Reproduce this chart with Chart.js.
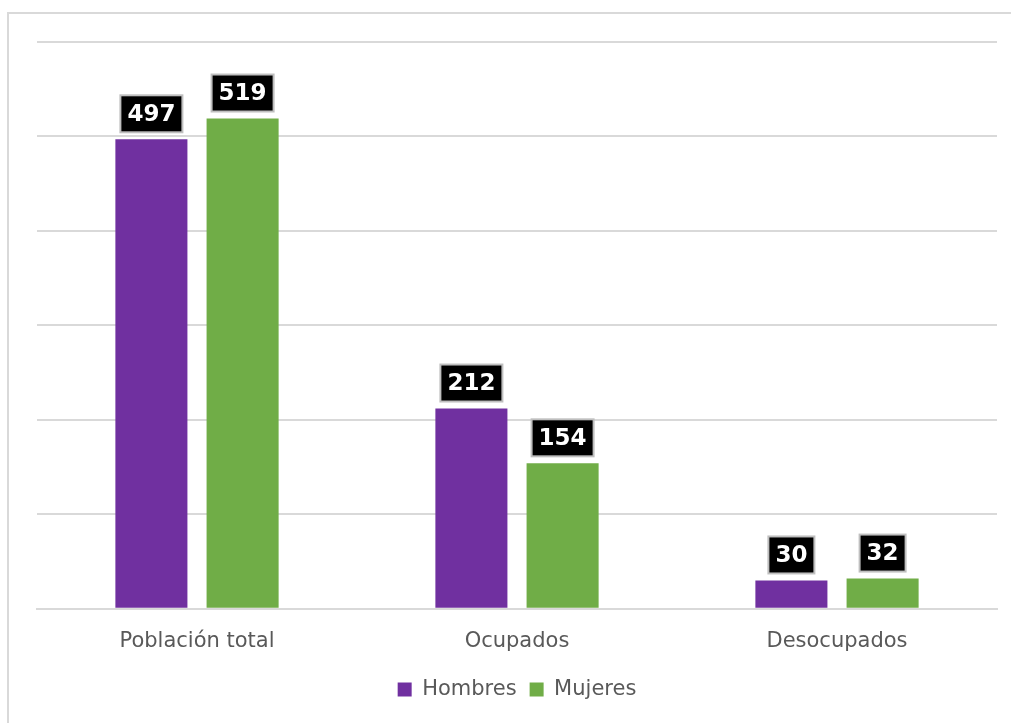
<!DOCTYPE html>
<html lang="es">
<head>
  <meta charset="UTF-8">
  <title>Población</title>
  <script src="https://cdn.jsdelivr.net/npm/chart.js"></script>
  <style>
    html, body { margin: 0; padding: 0; background: #fff; }
    .wrap { width: 1011px; height: 723px; position: relative; }
  </style>
</head>
<body>
  <div class="wrap"><canvas id="chart" width="1011" height="723"></canvas></div>
  <script>
    const categories = ['Población total', 'Ocupados', 'Desocupados'];
    const hombres = [497, 212, 30];
    const mujeres = [519, 154, 32];
    const seriesNames = ['Hombres', 'Mujeres'];

    // marco exterior y etiquetas de valor en cajas negras
    const framePlugin = {
      id: 'frame',
      beforeDraw(chart) {
        const c = chart.ctx;
        c.save();
        c.strokeStyle = '#d9d9d9';
        c.lineWidth = 2;
        c.strokeRect(8, 13, 1020, 730);
        c.restore();
      }
    };

    const boxLabels = {
      id: 'boxLabels',
      afterDatasetsDraw(chart) {
        const c = chart.ctx;
        c.save();
        c.font = 'bold 23px "DejaVu Sans"';
        c.textAlign = 'center';
        c.textBaseline = 'middle';
        chart.data.datasets.forEach((ds, i) => {
          chart.getDatasetMeta(i).data.forEach((bar, j) => {
            const txt = String(ds.data[j]);
            const w = c.measureText(txt).width + 14;
            const h = 37;
            const x = bar.x - w / 2;
            const y = bar.y - 7 - h;
            c.fillStyle = '#000';
            c.fillRect(x, y, w, h);
            c.strokeStyle = '#bfbfbf';
            c.lineWidth = 2;
            c.strokeRect(x, y, w, h);
            c.fillStyle = '#fff';
            c.fillText(txt, bar.x, y + h / 2 + 1);
          });
        });
        c.restore();
      }
    };

    new Chart(document.getElementById('chart').getContext('2d'), {
      type: 'bar',
      data: {
        labels: categories,
        datasets: [
          { label: seriesNames[0], data: hombres, backgroundColor: '#7030a0' },
          { label: seriesNames[1], data: mujeres, backgroundColor: '#70ad47' }
        ]
      },
      options: {
        responsive: false,
        animation: false,
        devicePixelRatio: 1,
        categoryPercentage: 0.57,
        barPercentage: 0.79,
        layout: { padding: { left: 37, right: 14, top: 42, bottom: 13 } },
        plugins: {
          legend: {
            position: 'bottom',
            labels: {
              color: '#595959',
              font: { family: '"DejaVu Sans"', size: 21 },
              boxWidth: 14,
              boxHeight: 14,
              padding: 13
            }
          },
          tooltip: { enabled: false }
        },
        scales: {
          x: {
            grid: { display: false },
            border: { color: '#d9d9d9', width: 2 },
            ticks: {
              color: '#595959',
              font: { family: '"DejaVu Sans"', size: 21 },
              padding: 12
            }
          },
          y: {
            min: 0,
            max: 600,
            ticks: { display: false, stepSize: 100 },
            grid: { color: '#d9d9d9', lineWidth: 2, drawTicks: false },
            border: { display: false }
          }
        }
      },
      plugins: [framePlugin, boxLabels]
    });
  </script>
</body>
</html>
